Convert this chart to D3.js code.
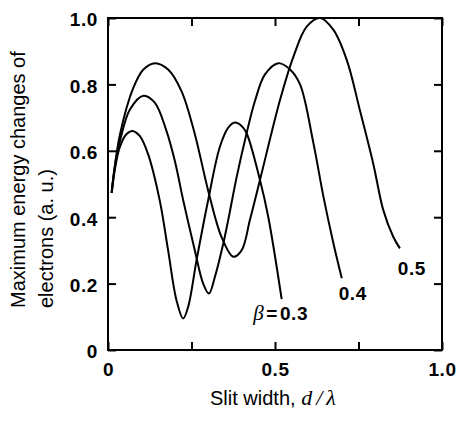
<!DOCTYPE html>
<html>
<head>
<meta charset="utf-8">
<script src="https://cdn.jsdelivr.net/npm/d3@7"></script>
<style>
  body { margin: 0; background: #fff; }
  svg { display: block; }
  .tick text { font-family: "Liberation Sans", Arial, sans-serif; font-weight: bold; font-size: 19px; letter-spacing: 0.6px; fill: #000; }
  .tick line { stroke: #000; stroke-width: 2px; }
  .domain { display: none; }
</style>
</head>
<body>
<div id="chart"></div>
<script>
// beta values of the three curves
var betas = ["0.3", "0.4", "0.5"];

// slit width d/lambda, energy change (a.u.)
var curve03 = [
  [0.011, 0.473], [0.02, 0.54], [0.035, 0.61], [0.055, 0.65], [0.073, 0.66],
  [0.095, 0.645], [0.12, 0.59], [0.155, 0.45], [0.18, 0.30], [0.205, 0.15],
  [0.225, 0.095], [0.24, 0.13], [0.265, 0.27], [0.30, 0.452], [0.335, 0.612],
  [0.36, 0.67], [0.38, 0.685], [0.40, 0.675], [0.415, 0.653], [0.455, 0.512],
  [0.48, 0.40], [0.52, 0.153]
];
var curve04 = [
  [0.011, 0.473], [0.02, 0.55], [0.036, 0.63], [0.066, 0.725], [0.106, 0.766],
  [0.14, 0.745], [0.175, 0.66], [0.20, 0.57], [0.225, 0.452], [0.26, 0.30],
  [0.285, 0.20], [0.302, 0.17], [0.32, 0.22], [0.345, 0.32], [0.36, 0.392],
  [0.385, 0.52], [0.415, 0.653], [0.44, 0.75], [0.47, 0.83], [0.51, 0.864],
  [0.545, 0.845], [0.575, 0.80], [0.615, 0.623], [0.645, 0.462], [0.675, 0.321],
  [0.70, 0.216]
];
var curve05 = [
  [0.011, 0.473], [0.016, 0.52], [0.036, 0.65], [0.076, 0.79], [0.106, 0.845],
  [0.141, 0.864], [0.18, 0.845], [0.22, 0.78], [0.26, 0.65], [0.30, 0.48],
  [0.34, 0.34], [0.375, 0.281], [0.40, 0.30], [0.425, 0.392], [0.455, 0.512],
  [0.515, 0.753], [0.555, 0.883], [0.595, 0.974], [0.635, 1.0], [0.675, 0.964],
  [0.715, 0.873], [0.754, 0.723], [0.794, 0.562], [0.824, 0.422], [0.854, 0.341],
  [0.874, 0.306]
];

var xTicks = [0, 0.25, 0.5, 0.75, 1];
var xLabels = {"0": "0", "0.5": "0.5", "1": "1.0"};
var yTicks = [0, 0.2, 0.4, 0.6, 0.8, 1];

var margin = {top: 18, right: 14, bottom: 73, left: 108},
    width = 456 - margin.left - margin.right,
    height = 423 - margin.top - margin.bottom;

var x = d3.scaleLinear().domain([0, 1]).range([0, width]),
    y = d3.scaleLinear().domain([0, 1]).range([height, 0]);

var svg = d3.select("#chart").append("svg")
    .attr("width", 456)
    .attr("height", 423);

var g = svg.append("g")
    .attr("transform", "translate(" + margin.left + "," + margin.top + ")");

// axes, ticks point inward
g.append("g")
    .attr("transform", "translate(0," + height + ")")
    .call(d3.axisBottom(x).tickValues(xTicks).tickSize(-8).tickPadding(13)
        .tickFormat(function (d) { return xLabels[String(d)] || ""; }));

g.append("g")
    .call(d3.axisTop(x).tickValues(xTicks).tickSize(-8).tickFormat(""));

g.append("g")
    .call(d3.axisLeft(y).tickValues(yTicks).tickSize(-8).tickPadding(10)
        .tickFormat(function (d) { return d === 0 ? "0" : d3.format(".1f")(d); }))
    .selectAll("text").attr("dy", "0.42em");

g.append("g")
    .attr("transform", "translate(" + width + ",0)")
    .call(d3.axisRight(y).tickValues(yTicks).tickSize(-8).tickFormat(""));

g.append("rect")
    .attr("width", width)
    .attr("height", height)
    .attr("fill", "none")
    .attr("stroke", "#000")
    .attr("stroke-width", 2);

var line = d3.line()
    .x(function (d) { return x(d[0]); })
    .y(function (d) { return y(d[1]); })
    .curve(d3.curveCatmullRom.alpha(0.5));

var curves = [curve03, curve04, curve05];

g.selectAll(".curve")
    .data(curves)
    .enter().append("path")
    .attr("class", "curve")
    .attr("d", line)
    .attr("fill", "none")
    .attr("stroke", "#000")
    .attr("stroke-width", 2);

// labels below the end of each curve
var labOff = [[-1, 21], [11, 22], [12, 27]];
var labs = g.selectAll(".lab")
    .data(curves)
    .enter().append("text")
    .attr("class", "lab")
    .attr("x", function (d, i) { return x(d[d.length - 1][0]) + labOff[i][0]; })
    .attr("y", function (d, i) { return y(d[d.length - 1][1]) + labOff[i][1]; })
    .attr("text-anchor", "middle")
    .style("font-family", "'Liberation Sans', Arial, sans-serif")
    .style("font-weight", "bold")
    .style("font-size", "19px")
    .style("letter-spacing", "0.6px");

labs.each(function (d, i) {
    var t = d3.select(this);
    if (i === 0) {
        t.append("tspan")
            .style("font-family", "'Liberation Serif', 'Times New Roman', serif")
            .style("font-style", "italic")
            .style("font-weight", "normal")
            .style("font-size", "21px")
            .text("β");
        t.append("tspan").attr("dx", 2).text("=");
        t.append("tspan").attr("dx", 2).text(betas[i]);
    } else {
        t.text(betas[i]);
    }
});

// axis titles
var yt = svg.append("text")
    .attr("transform", "rotate(-90)")
    .style("font-family", "'Liberation Sans', Arial, sans-serif")
    .style("font-size", "20px");
yt.append("tspan").attr("x", -308).attr("y", 25).text("Maximum energy changes of");
yt.append("tspan").attr("x", -308).attr("y", 53).text("electrons (a. u.)");

var xt = svg.append("text")
    .attr("x", 210)
    .attr("y", 405)
    .style("font-family", "'Liberation Sans', Arial, sans-serif")
    .style("font-size", "20px");
xt.append("tspan").text("Slit width, ");
xt.append("tspan")
    .style("font-family", "'Liberation Serif', 'Times New Roman', serif")
    .style("font-style", "italic")
    .style("font-size", "22px")
    .text("d");
xt.append("tspan")
    .style("font-family", "'Liberation Serif', 'Times New Roman', serif")
    .style("font-style", "italic")
    .style("font-size", "22px")
    .attr("dx", 4)
    .text("/");
xt.append("tspan")
    .style("font-family", "'Liberation Serif', 'Times New Roman', serif")
    .style("font-style", "italic")
    .style("font-size", "22px")
    .attr("dx", 4)
    .text("λ");
</script>
</body>
</html>
